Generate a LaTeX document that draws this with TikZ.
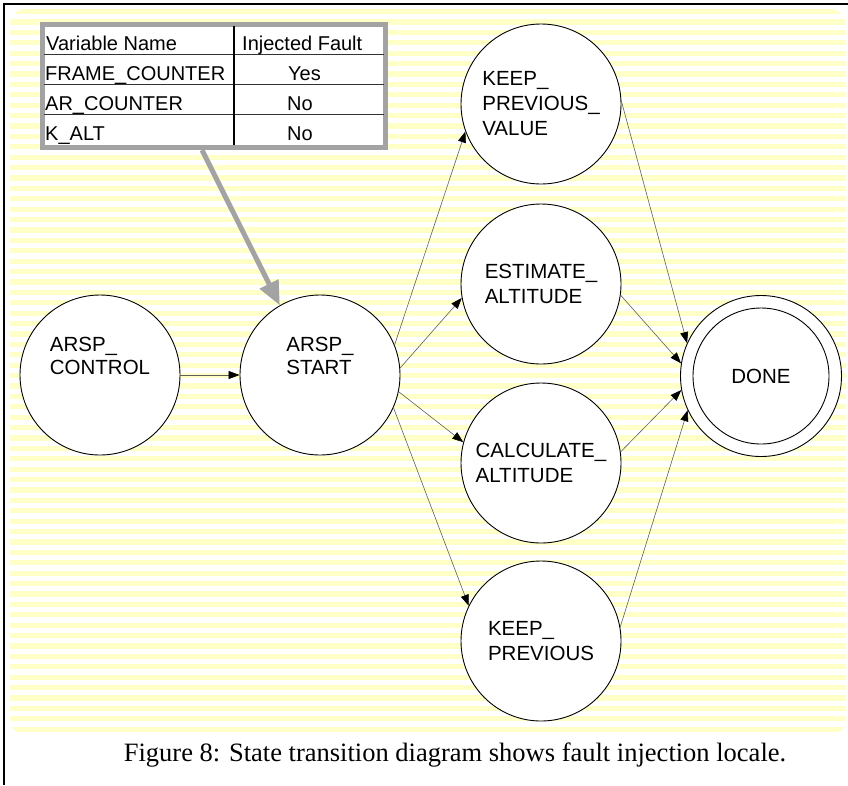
\documentclass[tikz,border=0pt]{standalone}
\usepackage{fontspec}
\setmainfont{Liberation Sans}
\newfontfamily\capfont{Liberation Serif}
\usetikzlibrary{arrows.meta}
\definecolor{stripe}{RGB}{255,255,200}
\definecolor{ptrgray}{RGB}{163,163,163}
\definecolor{edgegray}{RGB}{95,95,95}
\begin{document}
\begin{tikzpicture}[x=1pt,y=-1pt,
  state/.style={circle,draw=black,line width=0.9pt,fill=white,minimum size=160pt,inner sep=0pt,align=left,font=\fontsize{20.5}{25}\selectfont},
  trans/.style={draw=edgegray,line width=0.6pt,-{Triangle[length=11pt,width=8pt,color=black]}},
  pointer/.style={draw=ptrgray,line width=5pt,-{Triangle[length=24pt,width=20pt]}},
  cell/.style={anchor=base west,font=\fontsize{20}{22}\selectfont,inner sep=0pt},
  rowline/.style={draw=black!80,line width=0.8pt},
  uplabel/.style={align=left,font=\fontsize{20.5}{22.5}\selectfont,yshift=19pt}]
\useasboundingbox (0,0) rectangle (848,785);
\fill[white] (0,0) rectangle (848,785);
\begin{scope}
  \clip[rounded corners=16pt] (10,9) rectangle (846,735);
  \foreach \i in {0,...,70} \fill[stripe] (0,{9+10.4*\i}) rectangle (848,{9+10.4*\i+5.2});
\end{scope}
\draw[line width=1.5pt] (4,785) -- (4,4) -- (848,4);

% table
\node[draw=ptrgray,line width=5pt,fill=white,minimum width=343pt,minimum height=123pt,inner sep=0pt] (tbl) at (214,86) {};
\draw[rowline] (44,54) -- (384,54);
\draw[rowline] (44,84) -- (384,84);
\draw[rowline] (44,114) -- (384,114);
\draw[line width=1.5pt] (234,26) -- (234,145);
\node[cell] (h1) at (46,50) {Variable Name};
\node[cell] (h2) at (242,50) {Injected Fault};
\node[cell] (r1) at (45,80) {FRAME\_COUNTER};
\node[cell] (r1v) at (288,80) {Yes};
\node[cell] (r2) at (45,110) {AR\_COUNTER};
\node[cell] (r2v) at (287,110) {No};
\node[cell] (r3) at (45,140) {K\_ALT};
\node[cell] (r3v) at (287,140) {No};

% states
\node[state,label={[uplabel]center:ARSP\_\\CONTROL}] (control) at (100,375) {};
\node[state,label={[uplabel]center:ARSP\_\\START}] (start) at (320,375) {};
\node[state] (kpv) at (541,104) {KEEP\_\\PREVIOUS\_\\VALUE};
\node[state] (est) at (541,284) {ESTIMATE\_\\ALTITUDE};
\node[state] (calc) at (541,463) {CALCULATE\_\\ALTITUDE};
\node[state] (kp) at (541,641) {KEEP\_\\PREVIOUS};
\node[state,minimum size=161pt] (done) at (761,376) {};
\node[state,minimum size=136pt] (donein) at (761,376) {DONE};

% transitions
\draw[trans] (control) -- (start);
\draw[trans] (start.22) -- (kpv.200);
\draw[trans] (start.5) -- (est.190);
\draw[trans] (start.-12) -- (calc.165);
\draw[trans] (start.-24) -- (kp.154);
\draw[trans] (kpv.2) -- (done.156);
\draw[trans] (est.-8) -- (done.171);
\draw[trans] (calc.8) -- (done.190);
\draw[trans] (kp.10) -- (done.205);

% pointer
\draw[pointer] ([xshift=-12pt]tbl.south) -- (start.120);

\node[font=\capfont\fontsize{26.5}{30}\selectfont] (cap) at (455,755) {Figure 8: State transition diagram shows fault injection locale.};
\end{tikzpicture}
\end{document}
